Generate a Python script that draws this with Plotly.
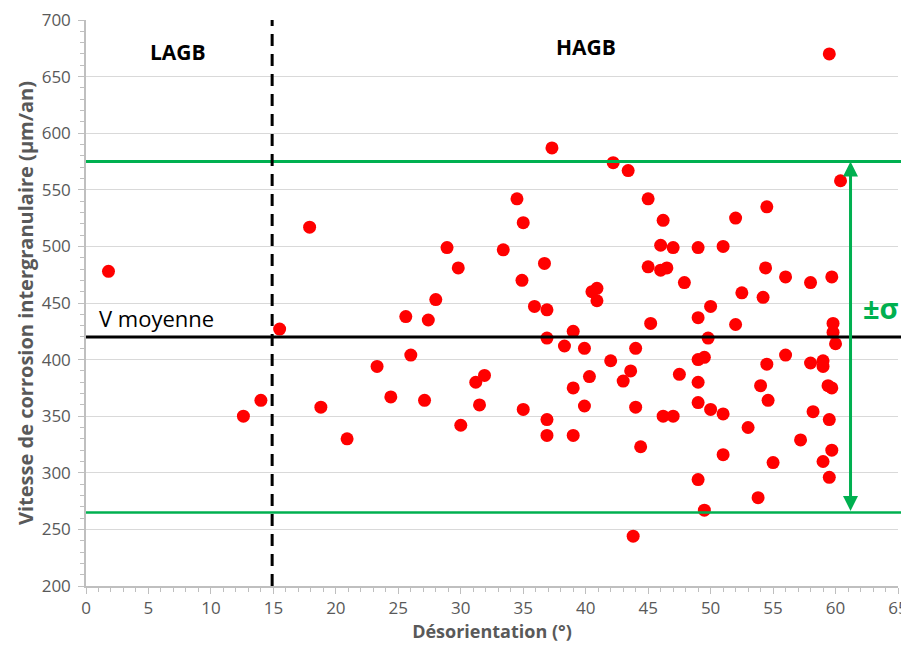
import plotly.graph_objects as go

# misorientation (deg) and intergranular corrosion rate (um/year)
desorientation = [1.8, 12.6, 14.0, 15.5, 17.9, 18.8, 20.9, 23.3, 24.4, 25.6,
                  26.0, 27.4, 27.1, 28.0, 28.9, 29.8, 30.0, 31.2, 31.5, 31.9,
                  33.4, 34.5, 35.0, 34.9, 35.0, 35.9, 36.7, 36.9, 36.9, 36.9,
                  36.9, 37.3, 38.3, 39.0, 39.0, 39.0, 39.9, 39.9, 40.3, 40.5,
                  40.9, 40.9, 42.0, 42.2, 43.0, 43.4, 43.6, 44.0, 44.0, 43.8,
                  44.4, 45.0, 45.0, 45.2, 46.0, 46.0, 46.5, 46.2, 46.2, 47.0,
                  47.0, 47.5, 47.9, 49.0, 49.0, 49.0, 49.0, 49.0, 49.0, 49.5,
                  49.5, 49.8, 50.0, 50.0, 51.0, 51.0, 51.0, 52.0, 52.0, 52.5,
                  53.0, 53.8, 54.0, 54.2, 54.4, 54.5, 54.5, 54.6, 55.0, 56.0,
                  56.0, 57.2, 58.0, 58.0, 58.2, 59.0, 59.0, 59.0, 59.4, 59.5,
                  59.5, 59.7, 59.7, 59.7, 59.8, 60.0, 60.4, 59.5, 59.8]
vitesse = [478, 350, 364, 427, 517, 358, 330, 394, 367, 438,
           404, 435, 364, 453, 499, 481, 342, 380, 360, 386,
           497, 542, 521, 470, 356, 447, 485, 444, 419, 347,
           333, 587, 412, 375, 425, 333, 410, 359, 385, 460,
           463, 452, 399, 574, 381, 567, 390, 410, 358, 244,
           323, 542, 482, 432, 501, 479, 481, 523, 350, 499,
           350, 387, 468, 499, 437, 400, 380, 362, 294, 402,
           267, 419, 447, 356, 500, 352, 316, 525, 431, 459,
           340, 278, 377, 455, 481, 535, 396, 364, 309, 473,
           404, 329, 468, 397, 354, 399, 394, 310, 377, 347,
           296, 375, 320, 473, 424, 414, 558, 670, 432]

v_moyenne = 420
sigma = 155
limite_lagb = 14.9

gris = "#595959"
police = "Open Sans"

fig = go.Figure()

fig.add_trace(go.Scatter(x=desorientation, y=vitesse, mode="markers",
                         marker=dict(color="#ff0000", size=13),
                         showlegend=False, hoverinfo="x+y"))

# mean and +/- sigma lines
fig.add_shape(type="line", xref="paper", yref="y", x0=0, x1=1.008,
              y0=v_moyenne, y1=v_moyenne, line=dict(color="black", width=3))
fig.add_shape(type="line", xref="paper", yref="y", x0=0, x1=1.015,
              y0=v_moyenne + sigma, y1=v_moyenne + sigma,
              line=dict(color="#00b050", width=3))
fig.add_shape(type="line", xref="paper", yref="y", x0=0, x1=1.015,
              y0=v_moyenne - sigma, y1=v_moyenne - sigma,
              line=dict(color="#00b050", width=2.5))

# LAGB / HAGB border
fig.add_shape(type="line", xref="x", yref="paper", x0=limite_lagb, x1=limite_lagb,
              y0=0, y1=1, line=dict(color="black", width=3, dash="12px,8px"))

# sigma arrow
fig.add_annotation(x=61.2, y=v_moyenne + sigma, ax=61.2, ay=v_moyenne - sigma,
                   xref="x", yref="y", axref="x", ayref="y", text="",
                   showarrow=True, arrowhead=2, arrowside="end+start",
                   arrowsize=1, arrowwidth=3, arrowcolor="#00b050")

fig.add_annotation(x=63.6, y=446, xref="x", yref="y", text="<b>±σ</b>",
                   showarrow=False, font=dict(size=29, color="#00b050", family=police))
fig.add_annotation(x=7.35, y=672, xref="x", yref="y", text="<b>LAGB</b>",
                   showarrow=False, font=dict(size=21, color="black", family=police))
fig.add_annotation(x=40.0, y=676, xref="x", yref="y", text="<b>HAGB</b>",
                   showarrow=False, font=dict(size=21, color="black", family=police))
fig.add_annotation(x=0.9, y=437, xref="x", yref="y", text="V moyenne",
                   xanchor="left", showarrow=False,
                   font=dict(size=22, color="black", family=police))

# the page puts the figure 8px in from the corner, hence 901x640
fig.update_layout(
    width=901, height=640,
    margin=dict(l=78, r=11, t=12, b=62),
    plot_bgcolor="white", paper_bgcolor="white",
    font=dict(family=police, size=17, color=gris),
    xaxis=dict(range=[0, 65], dtick=5, showgrid=False, zeroline=False,
               automargin=False, ticklabeloverflow="allow",
               showline=True, linecolor="#bfbfbf", linewidth=1.5,
               ticks="outside", ticklen=6, tickcolor="#bfbfbf",
               minor=dict(ticks="outside", dtick=1, ticklen=4, tickcolor="#bfbfbf"),
               title=dict(text="<b>Désorientation (°)</b>", font=dict(size=18, color=gris),
                          standoff=5)),
    yaxis=dict(range=[200, 700], dtick=50, showgrid=True, gridcolor="#d9d9d9",
               gridwidth=1, zeroline=False, automargin=False, ticklabeloverflow="allow",
               showline=True, linecolor="#bfbfbf", linewidth=1.5,
               ticks="outside", ticklen=6, tickcolor="#bfbfbf", ticklabelstandoff=4,
               minor=dict(ticks="outside", dtick=10, ticklen=4, tickcolor="#bfbfbf",
                          showgrid=False),
               title=dict(text="<b>Vitesse de corrosion intergranulaire (µm/an)</b>",
                          font=dict(size=20, color=gris), standoff=3)),
)

fig.write_html("out.html")
